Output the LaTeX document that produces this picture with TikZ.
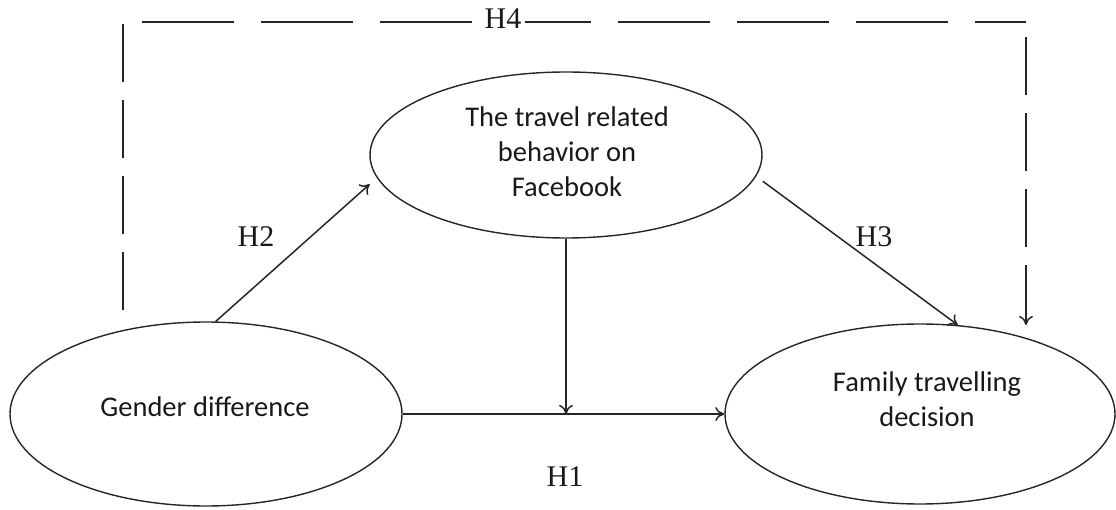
\documentclass[tikz,border=0pt]{standalone}
\usepackage{fontspec}
\setmainfont{Liberation Serif}
\newfontfamily\calfont{Carlito}
\usetikzlibrary{arrows.meta,shapes.geometric}
\begin{document}
\begin{tikzpicture}[x=1pt,y=-1pt,
  oval/.style={draw=black!85, line width=1.4pt, ellipse, inner sep=0pt},
  ovaltext/.style={font=\calfont\fontsize{28.5}{35}\selectfont, align=center, text=black!90, inner sep=0pt},
  hlabel/.style={font=\fontsize{30}{32}\selectfont, text=black!90, inner sep=1pt},
  conn/.style={draw=black!85, line width=1.5pt, -{To[length=9pt,width=14pt]}},
  dashv/.style={draw=black!85, line width=1.5pt, dash pattern=on 58pt off 18pt},
  dashh/.style={draw=black!85, line width=1.5pt, dash pattern=on 92pt off 27pt, dash phase=100pt}
]
\useasboundingbox (0,0) rectangle (1116,510);

% ellipses
\node[oval, minimum width=392pt, minimum height=184pt] (g) at (206,414) {};
\node[oval, minimum width=392pt, minimum height=166pt] (t) at (566,155) {};
\node[oval, minimum width=390pt, minimum height=180pt] (f) at (920,414) {};

% texts
\node[ovaltext] (gt) at (205,407) {Gender difference};
\node[ovaltext] (tt) at (567,152) {The travel related\\behavior on\\Facebook};
\node[ovaltext] (ft) at (927,399) {Family travelling\\decision};

% H1
\draw[conn] (g.east) -- (f.west);
\coordinate (m) at (t.south |- g.east);
\draw[conn] (t.south) -- (m);
\node[hlabel] (h1) at (565,477) {H1};

% H2
\draw[conn] (g.84) -- ([xshift=-12pt]t.189);
\node[hlabel] (h2) at (256,237) {H2};

% H3
\draw[conn] ([xshift=10pt]t.352) -- (f.67);
\node[hlabel] (h3) at (874,237) {H3};

% H4
\coordinate (a) at (123,310);
\coordinate (b) at (123,22);
\coordinate (c) at (1026,22);
\coordinate (d) at (1026,325);
\draw[dashv] (a) -- (b);
\draw[dashh] (b) -- (c);
\draw[dashv, {To[length=9pt,width=14pt]}-] (d) -- (c);
\node[hlabel, fill=white, inner xsep=4pt] (h4) at (503,19) {H4};
\end{tikzpicture}
\end{document}
